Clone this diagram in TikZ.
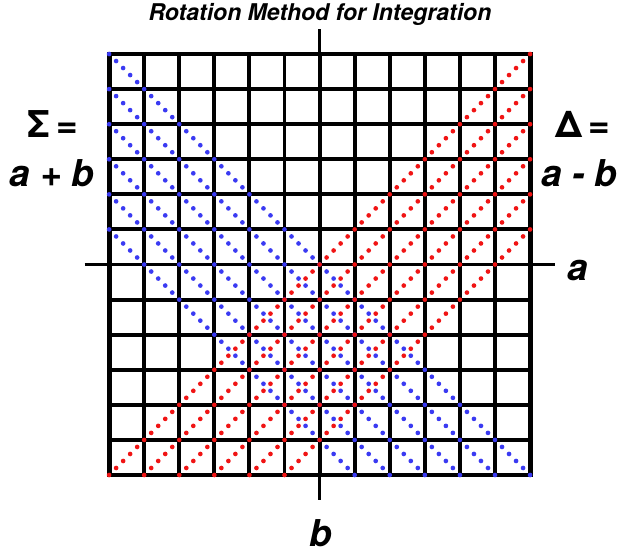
\documentclass[tikz,border=0pt]{standalone}
\usepackage{fontspec}
\setmainfont{TeX Gyre Heros}
\usepackage{tikz}
\usepackage{xcolor}
\definecolor{Dot_Red}{HTML}{F01414}
\definecolor{Dot_Blue}{HTML}{3A3AF2}

\begin{document}
\begin{tikzpicture}[
    gridline/.style={draw=black, line width=3.2pt},
    frame/.style={draw=black, line width=4pt},
    axis/.style={draw=black, line width=3pt},
    dotline/.style={line width=3.8pt, line cap=round, dash pattern=on 0pt off 0.28284cm},
    sumline/.style={dotline, draw=Dot_Blue},
    diffline/.style={dotline, draw=Dot_Red},
    lbl/.style={font=\fontsize{30}{34}\selectfont\bfseries\itshape, inner sep=0pt},
    title/.style={font=\fontsize{18.7}{22}\selectfont\bfseries\itshape, inner sep=0pt}
]
\useasboundingbox (-9.11,-8.25) rectangle (8.62,7.54);

% grid
\draw[gridline] (-6,-6) grid (6,6);
\draw[frame] (-6,-6) rectangle (6,6);

% axes
\coordinate (aL) at (-6.7,0);
\coordinate (aR) at (6.7,0);
\coordinate (bT) at (0,6.7);
\coordinate (bB) at (0,-6.7);
\draw[axis] (aL) -- (aR);
\draw[axis] (bT) -- (bB);

% lines of constant a+b
\foreach \k in {0,...,5} {
    \draw[sumline] (-6,6-\k) -- (6-\k,-6);
}
% lines of constant a-b
\foreach \k in {0,...,5} {
    \draw[diffline] (-6+\k,-6) -- (6,6-\k);
}

% labels
\node[title] (T) at (0.01,7.12) {Rotation Method for Integration};
\node[lbl] (S1) at (-7.6,4.0) {\upshape Σ\,=};
\node[lbl] (S2) at (-7.63,2.61) {a + b};
\node[lbl] (D1) at (7.5,4.0) {\upshape Δ\,=};
\node[lbl] (D2) at (7.4,2.61) {a - b};
\node[lbl] (A) at (7.37,-0.16) {a};
\node[lbl] (B) at (0.04,-7.66) {b};

\end{tikzpicture}
\end{document}
